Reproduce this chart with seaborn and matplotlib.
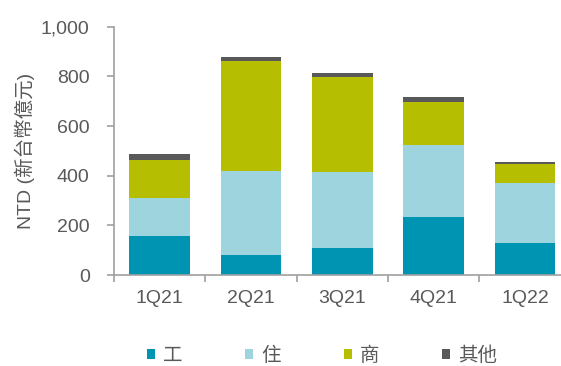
import matplotlib
matplotlib.use("Agg")
import matplotlib.pyplot as plt
from matplotlib.ticker import FuncFormatter, FixedLocator
from matplotlib.patches import Patch
import numpy as np
import pandas as pd
import seaborn as sns

quarters = ["1Q21", "2Q21", "3Q21", "4Q21", "1Q22"]
industrial = [157, 80, 110, 234, 129]
residential = [153, 337, 305, 288, 241]
commercial = [153, 445, 382, 176, 78]
other = [23, 15, 17, 20, 7]

series_names = ["工", "住", "商", "其他"]
series_values = [industrial, residential, commercial, other]
colors = ["#0094B3", "#9DD4DE", "#B5BE00", "#595959"]

sns.set_theme(style="white")
plt.rcParams["font.family"] = ["Liberation Sans", "Noto Sans CJK TC", "DejaVu Sans"]
text_color = "#595959"
axis_color = "#A0A0A0"
fs = 14

fig = plt.figure(figsize=(5.61, 3.66), dpi=100)
ax = fig.add_axes([114 / 561, 91 / 366, (570.8 - 114) / 561, (275 - 26.7) / 366])

bottom = np.zeros(len(quarters))
for name, vals, col in zip(series_names, series_values, colors):
    df = pd.DataFrame({"quarter": quarters, "value": vals})
    sns.barplot(data=df, x="quarter", y="value", order=quarters, color=col,
                width=0.665, bottom=bottom.copy(), linewidth=0, ax=ax,
                saturation=1, errorbar=None)
    bottom += np.array(vals)

ax.set_xlim(-0.5, len(quarters) - 0.5)
ax.set_ylim(0, 1000)
ax.set_yticks(range(0, 1001, 200))
ax.yaxis.set_major_formatter(FuncFormatter(lambda v, p: f"{int(v):,}"))
ax.xaxis.set_minor_locator(FixedLocator(np.arange(-0.5, len(quarters), 1.0)))

for s in ["top", "right"]:
    ax.spines[s].set_visible(False)
for s in ["left", "bottom"]:
    ax.spines[s].set_color(axis_color)
    ax.spines[s].set_linewidth(1.2)

ax.tick_params(axis="y", which="major", direction="out", length=5, width=1.2,
               color=axis_color, labelsize=fs, labelcolor=text_color, pad=12.5, left=True)
ax.tick_params(axis="x", which="major", length=0, labelsize=fs,
               labelcolor=text_color, pad=11)
ax.tick_params(axis="x", which="minor", direction="out", length=5, width=1.2,
               color=axis_color, bottom=True)

ax.set_xlabel("")
ax.set_ylabel("NTD (新台幣億元)", fontsize=fs, color=text_color, labelpad=4)

handles = [Patch(facecolor=c, edgecolor="none") for c in colors]
fig.legend(handles, series_names, loc="center", bbox_to_anchor=(0.574, 0.03),
           ncol=4, frameon=False, handlelength=0.41, handleheight=0.41,
           handletextpad=0.41, columnspacing=3.24, labelcolor=text_color,
           prop={"family": ["Noto Sans CJK TC"], "size": fs})

fig.savefig("out.png", dpi=100)
